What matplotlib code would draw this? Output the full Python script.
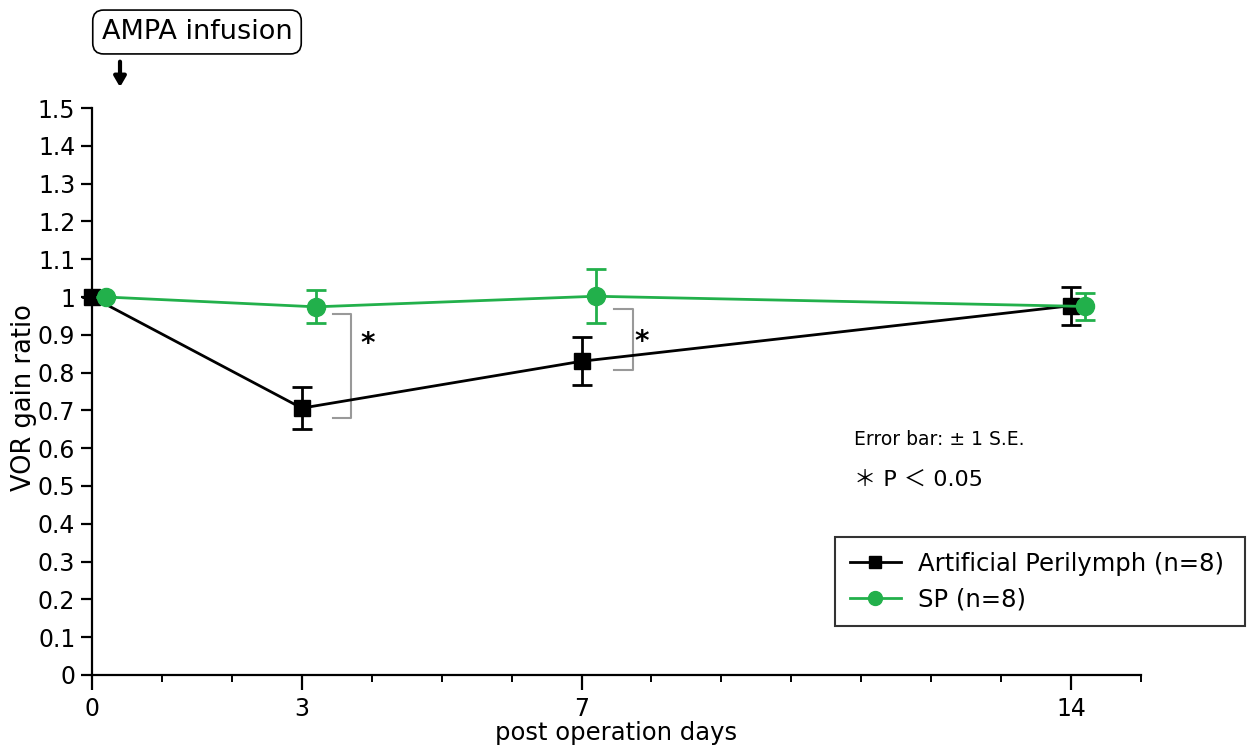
import matplotlib
matplotlib.use('Agg')
import matplotlib.pyplot as plt
from matplotlib.lines import Line2D
from matplotlib.ticker import FixedLocator, FuncFormatter

plt.rcParams['font.family'] = ['DejaVu Sans', 'Noto Sans CJK JP']

# data
days = [0, 3, 7, 14]
ap_mean = [1.0, 0.706, 0.830, 0.977]
ap_se = [0.0, 0.055, 0.063, 0.050]
sp_mean = [1.0, 0.974, 1.002, 0.975]
sp_se = [0.0, 0.044, 0.071, 0.036]

ap_label = 'Artificial Perilymph (n=8)'
sp_label = 'SP (n=8)'
green = '#22b04b'
sp_shift = 0.2  # green points drawn slightly to the right

# significance brackets: (x left, x right, y top, y bottom, star x, star y)
brackets = [(3.44, 3.70, 0.955, 0.680, 3.94, 0.875),
            (7.47, 7.73, 0.968, 0.807, 7.86, 0.882)]

fig = plt.figure(figsize=(12.47, 7.47), dpi=100)
ax = fig.add_axes([0.0738, 0.0964, 0.8412, 0.759])

ax.errorbar(days, ap_mean, yerr=ap_se, color='black', lw=2, marker='s',
            markersize=12, capsize=7, capthick=2, elinewidth=2,
            clip_on=False, zorder=3)
ax.errorbar([d + sp_shift for d in days], sp_mean, yerr=sp_se, color=green,
            lw=2, marker='o', markersize=13, capsize=7, capthick=2,
            elinewidth=2, clip_on=False, zorder=4)

for x0, x1, yt, yb, sx, sy in brackets:
    ax.plot([x0, x1, x1, x0], [yt, yt, yb, yb], color='#999999', lw=1.5)
    ax.text(sx, sy, '*', fontsize=20, fontweight='bold', ha='center', va='center')

ax.set_xlim(0, 15)
ax.set_ylim(0, 1.5)
ax.xaxis.set_major_locator(FixedLocator(days))
ax.xaxis.set_minor_locator(FixedLocator(range(1, 16)))
ax.yaxis.set_major_locator(FixedLocator([i / 10 for i in range(16)]))
ax.yaxis.set_major_formatter(FuncFormatter(lambda v, p: '%g' % round(v, 1)))

for s in ['top', 'right']:
    ax.spines[s].set_visible(False)
for s in ['left', 'bottom']:
    ax.spines[s].set_linewidth(1.6)
ax.tick_params(axis='x', which='major', length=11, width=1.6, labelsize=17, pad=5)
ax.tick_params(axis='x', which='minor', length=5, width=1.4)
ax.tick_params(axis='y', length=8, width=1.6, labelsize=17, pad=4)

ax.set_xlabel('post operation days', fontsize=17.5, labelpad=0)
ax.set_ylabel('VOR gain ratio', fontsize=18.5)
ax.yaxis.set_label_coords(-0.052, 0.49)

ax.text(10.9, 0.622, 'Error bar: ± 1 S.E.', fontsize=13.5, va='center')
ax.text(10.9, 0.516, '＊ P ＜ 0.05', fontsize=16, va='center')

# infusion marker above the plot
fig.text(197 / 1247, 1 - 32 / 747, 'AMPA infusion', fontsize=19.5,
         ha='center', va='center',
         bbox=dict(boxstyle='round,pad=0.33,rounding_size=0.4', fc='white',
                   ec='black', lw=1.2))
ax.annotate('', xy=(0.4, 1.548), xytext=(0.4, 1.63), annotation_clip=False,
            arrowprops=dict(arrowstyle='-|>,head_width=0.35,head_length=0.6',
                            color='black', lw=3))

handles = [Line2D([], [], color='black', lw=2, marker='s', markersize=9),
           Line2D([], [], color=green, lw=2, marker='o', markersize=10)]
leg = fig.legend(handles, [ap_label, sp_label], loc='upper left',
                 bbox_to_anchor=(0.6696, 0.1593, 0.3288, 0.1218),
                 mode='expand', fontsize=17.5, frameon=True, fancybox=False,
                 edgecolor='black', handlelength=2.1, handletextpad=0.7,
                 borderpad=0.6, labelspacing=0.5, borderaxespad=0)
leg.get_frame().set_linewidth(1.5)

fig.savefig('out.png', dpi=100)
